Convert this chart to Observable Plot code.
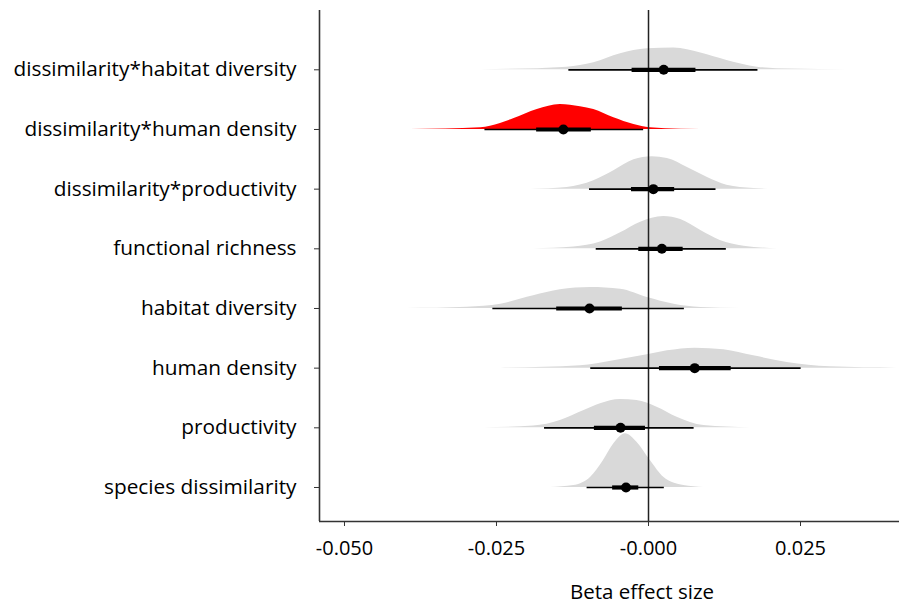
<!DOCTYPE html>
<html>
<head>
<meta charset="utf-8">
<script src="https://cdn.jsdelivr.net/npm/d3@7"></script>
<script src="https://cdn.jsdelivr.net/npm/@observablehq/plot@0.6"></script>
<style>
  html, body { margin: 0; padding: 0; background: #fff; }
  #wrap { position: relative; width: 899px; height: 604px; overflow: hidden; }
  #xtitle { position: absolute; top: 577px; left: 642px; transform: translateX(-50%);
            font-family: "Open Sans", sans-serif; font-size: 20.5px; color: #000; white-space: nowrap; }
</style>
</head>
<body>
<div id="wrap"><div id="chart"></div><div id="xtitle">Beta effect size</div></div>
<script>
// ---- data ----
const categories = [
  "dissimilarity*habitat diversity",
  "dissimilarity*human density",
  "dissimilarity*productivity",
  "functional richness",
  "habitat diversity",
  "human density",
  "productivity",
  "species dissimilarity"
];
const highlighted = ["dissimilarity*human density"];

const pointEst = [0.0025, -0.0140, 0.0008, 0.0022, -0.0097, 0.0076, -0.0046, -0.0037];
const thickLo  = [-0.0027, -0.0184, -0.0028, -0.0016, -0.0151, 0.0018, -0.0089, -0.0059];
const thickHi  = [0.0078, -0.0094, 0.0043, 0.0057, -0.0043, 0.0136, -0.0005, -0.0016];
const thinLo   = [-0.0131, -0.0269, -0.0097, -0.0086, -0.0256, -0.0095, -0.0171, -0.0101];
const thinHi   = [0.0180, -0.0008, 0.0111, 0.0128, 0.0059, 0.0251, 0.0075, 0.0026];

// posterior density outlines: [value, relative density]
const densDissimHabitat = [[-0.0276,0],[-0.0134,0.050],[-0.0090,0.130],[-0.0046,0.298],[-0.0002,0.391],[0.0042,0.404],[0.0086,0.311],[0.0129,0.173],[0.0179,0.050],[0.0234,0.013],[0.0327,0]];
const densDissimHuman   = [[-0.0391,0],[-0.0276,0.032],[-0.0260,0.061],[-0.0222,0.199],[-0.0183,0.372],[-0.0145,0.466],[-0.0112,0.423],[-0.0090,0.372],[-0.0057,0.218],[-0.0024,0.093],[0.0003,0.032],[0.0053,0.006],[0.0118,0]];
const densDissimProd    = [[-0.0194,0],[-0.0134,0.032],[-0.0090,0.155],[-0.0057,0.341],[-0.0024,0.546],[0.0006,0.601],[0.0031,0.572],[0.0064,0.404],[0.0097,0.218],[0.0129,0.074],[0.0173,0.013],[0.0206,0]];
const densFuncRich      = [[-0.0189,0],[-0.0123,0.032],[-0.0079,0.125],[-0.0046,0.298],[-0.0013,0.497],[0.0025,0.601],[0.0053,0.546],[0.0086,0.341],[0.0118,0.155],[0.0157,0.050],[0.0212,0]];
const densHabitat       = [[-0.0397,0],[-0.0298,0.024],[-0.0243,0.080],[-0.0189,0.236],[-0.0145,0.348],[-0.0095,0.391],[-0.0046,0.359],[-0.0002,0.205],[0.0042,0.080],[0.0086,0.019],[0.0151,0]];
const densHuman         = [[-0.0243,0],[-0.0112,0.043],[-0.0057,0.136],[-0.0002,0.248],[0.0031,0.322],[0.0077,0.372],[0.0124,0.341],[0.0173,0.229],[0.0228,0.106],[0.0299,0.024],[0.0409,0]];
const densProd          = [[-0.0271,0],[-0.0189,0.032],[-0.0145,0.136],[-0.0106,0.322],[-0.0079,0.447],[-0.0046,0.527],[-0.0019,0.508],[0.0014,0.385],[0.0047,0.199],[0.0091,0.043],[0.0168,0]];
const densSpecies       = [[-0.0161,0],[-0.0123,0.037],[-0.0095,0.192],[-0.0074,0.503],[-0.0057,0.814],[-0.0038,1.0],[-0.0019,0.844],[0.0003,0.503],[0.0025,0.192],[0.0058,0.037],[0.0091,0]];

const xTicks = [-0.05, -0.025, 0, 0.025];
const xTickLabels = ["-0.050", "-0.025", "-0.000", "0.025"];
const xDomain = [-0.05411, 0.04128];
const yDomain = [7.57, -0.994];

// ---- build tables ----
const densities = [densDissimHabitat, densDissimHuman, densDissimProd, densFuncRich,
                   densHabitat, densHuman, densProd, densSpecies];
const densRows = densities.flatMap((d, i) =>
  d.map(([v, h]) => ({cat: categories[i], i, v, h})));
const summary = categories.map((c, i) => ({
  cat: c, i, pt: pointEst[i], tl: thickLo[i], th: thickHi[i], nl: thinLo[i], nh: thinHi[i]
}));
const SCALE = 0.9;
const fillOf = c => highlighted.includes(c) ? "#ff0000" : "#d9d9d9";

const chart = Plot.plot({
  width: 899,
  height: 604,
  marginLeft: 319,
  marginRight: 0,
  marginTop: 10,
  marginBottom: 83,
  style: {fontFamily: "'Open Sans', sans-serif", fontSize: "20px", color: "#000", background: "#fff"},
  x: {domain: xDomain},
  y: {domain: yDomain},
  marks: [
    ...categories.map((c, i) => Plot.areaY(densRows.filter(d => d.i === i), {
      x: "v", y1: d => d.i, y2: d => d.i - d.h * SCALE,
      fill: fillOf(c), curve: "monotone-x"
    })),
    Plot.ruleX([0], {stroke: "#222", strokeWidth: 1.5}),
    Plot.ruleY(summary, {y: "i", x1: "nl", x2: "nh", stroke: "#000", strokeWidth: 1.7}),
    Plot.ruleY(summary, {y: "i", x1: "tl", x2: "th", stroke: "#000", strokeWidth: 4.2}),
    Plot.dot(summary, {x: "pt", y: "i", r: 5, fill: "#000", stroke: null}),
    Plot.ruleX([xDomain[0]], {stroke: "#333", strokeWidth: 1.6}),
    Plot.ruleY([yDomain[0]], {stroke: "#333", strokeWidth: 1.6}),
    Plot.axisY({
      ticks: d3.range(categories.length),
      tickFormat: i => categories[i],
      tickSize: 5, tickPadding: 18, label: null, stroke: "#333",
      fontSize: 20.8
    }),
    Plot.axisX({
      ticks: xTicks,
      tickFormat: (d, k) => xTickLabels[xTicks.indexOf(d)],
      tickSize: 5, tickPadding: 14, label: null, stroke: "#333",
      fontSize: 20
    })
  ]
});
document.getElementById("chart").appendChild(chart);
</script>
</body>
</html>
